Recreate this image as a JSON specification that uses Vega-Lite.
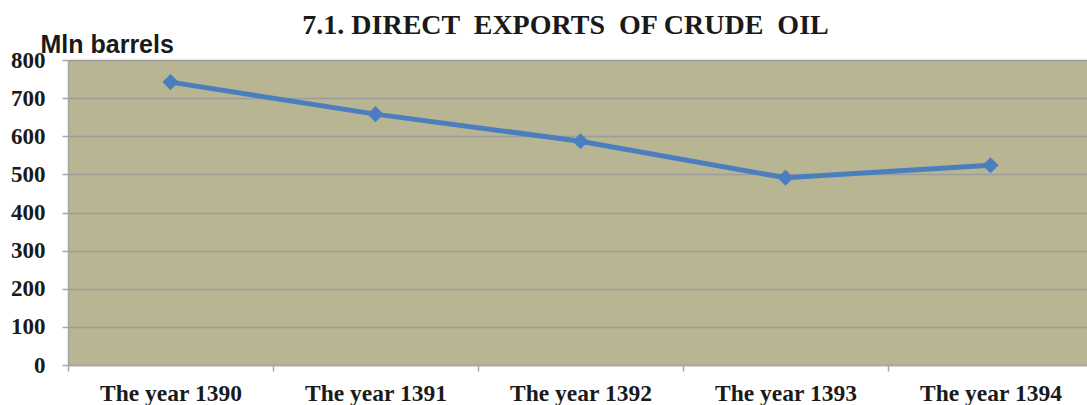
{
  "$schema": "https://vega.github.io/schema/vega-lite/v6.json",
  "autosize": "none",
  "width": 1019,
  "height": 305,
  "padding": {"left": 68, "top": 60, "right": 0, "bottom": 40},
  "background": "white",
  "title": {
    "text": "7.1. DIRECT \u00a0EXPORTS \u00a0OF CRUDE \u00a0OIL",
    "font": "Liberation Serif",
    "fontSize": 28,
    "fontWeight": "bold",
    "color": "#1a1a1a",
    "anchor": "middle",
    "dx": -12,
    "offset": -8
  },
  "config": {
    "view": {"fill": "#B8B592", "stroke": null},
    "axis": {
      "labelFont": "Liberation Serif",
      "labelFontWeight": "bold",
      "labelFontSize": 23.5,
      "labelColor": "#1a1a1a",
      "domainColor": "#A6A6A6",
      "domainWidth": 1.5,
      "tickColor": "#A6A6A6",
      "tickWidth": 1.5,
      "gridColor": "#9C9C9C",
      "gridWidth": 1.5
    }
  },
  "data": {
    "values": [
      {"year": "The year 1390", "value": 742},
      {"year": "The year 1391", "value": 658},
      {"year": "The year 1392", "value": 587},
      {"year": "The year 1393", "value": 491},
      {"year": "The year 1394", "value": 524}
    ]
  },
  "encoding": {
    "x": {
      "field": "year",
      "type": "nominal",
      "sort": null,
      "scale": {"range": [0, 1025], "paddingInner": 0, "paddingOuter": 0},
      "axis": {
        "title": null,
        "labelAngle": 0,
        "tickBand": "extent",
        "tickSize": 6,
        "labelPadding": 10,
        "grid": false
      }
    },
    "y": {
      "field": "value",
      "type": "quantitative",
      "scale": {"domain": [0, 800], "nice": false},
      "axis": {
        "values": [0, 100, 200, 300, 400, 500, 600, 700, 800],
        "tickSize": 6,
        "labelPadding": 17,
        "labelFontSize": 23,
        "grid": true,
        "title": "Mln barrels",
        "titleAngle": 0,
        "titleAlign": "left",
        "titleBaseline": "alphabetic",
        "titleX": -28,
        "titleY": -8,
        "titleFont": "Liberation Sans",
        "titleFontSize": 25,
        "titleFontWeight": "bold",
        "titleColor": "#1a1a1a"
      }
    }
  },
  "layer": [
    {
      "mark": {"type": "line", "color": "#4A7EBF", "strokeWidth": 5}
    },
    {
      "mark": {"type": "point", "shape": "diamond", "filled": true, "color": "#4A7EBF", "size": 260, "opacity": 1}
    }
  ]
}
